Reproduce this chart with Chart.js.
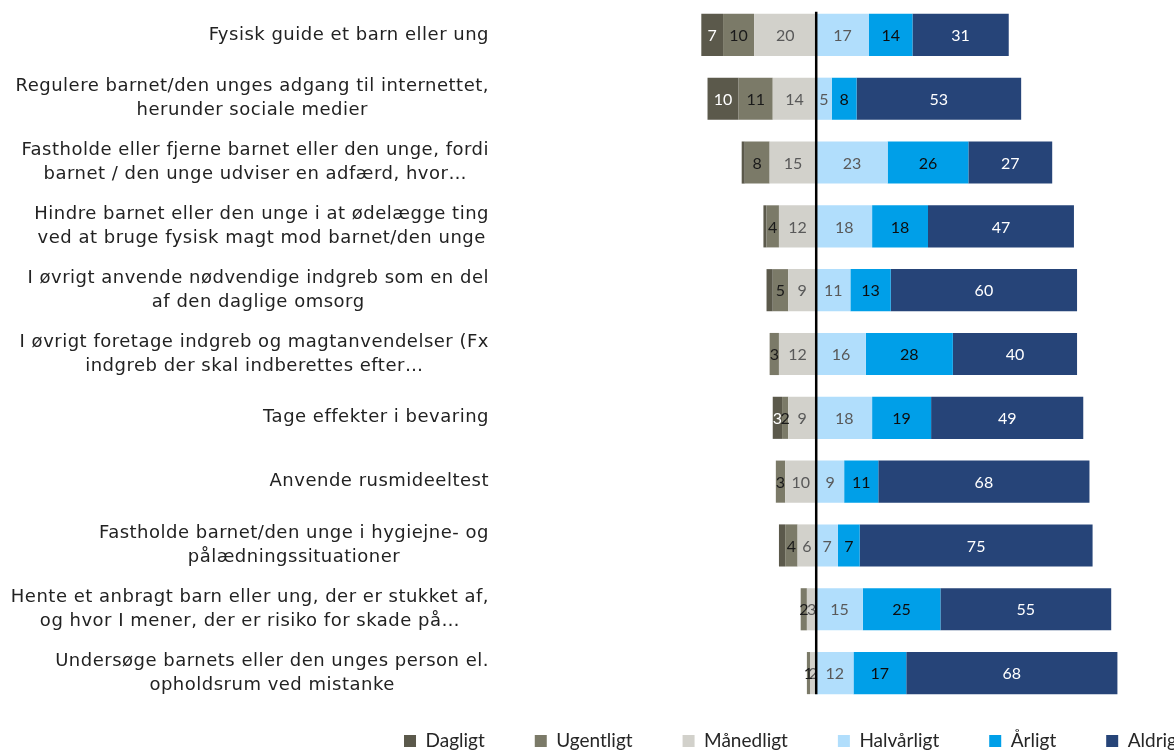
<!DOCTYPE html>
<html><head><meta charset="utf-8">
<script src="https://cdn.jsdelivr.net/npm/chart.js@4"></script>
<style>html,body{margin:0;padding:0;background:#fff;overflow:hidden}
#wrap{position:relative;width:1174px;height:751px}</style>
</head><body><div id="wrap"><canvas id="c"></canvas></div>
<script>
const categories = [
  ["Fysisk guide et barn eller ung"],
  ["Regulere barnet/den unges adgang til internettet,", "herunder sociale medier"],
  ["Fastholde eller fjerne barnet eller den unge, fordi", "barnet / den unge udviser en adfærd, hvor…"],
  ["Hindre barnet eller den unge i at ødelægge ting", "ved at bruge fysisk magt mod barnet/den unge"],
  ["I øvrigt anvende nødvendige indgreb som en del", "af den daglige omsorg"],
  ["I øvrigt foretage indgreb og magtanvendelser (Fx", "indgreb der skal indberettes efter…"],
  ["Tage effekter i bevaring"],
  ["Anvende rusmideeltest"],
  ["Fastholde barnet/den unge i hygiejne- og", "pålædningssituationer"],
  ["Hente et anbragt barn eller ung, der er stukket af,", "og hvor I mener, der er risiko for skade på…"],
  ["Undersøge barnets eller den unges person el.", "opholdsrum ved mistanke"]
];
const seriesNames = ["Dagligt", "Ugentligt", "Månedligt", "Halvårligt", "Årligt", "Aldrig"];
const dagligt     = [7, 10, 1, 1, 2, 0, 3, 0, 2, 0, 0];
const ugentligt   = [10, 11, 8, 4, 5, 3, 2, 3, 4, 2, 1];
const maanedligt  = [20, 14, 15, 12, 9, 12, 9, 10, 6, 3, 2];
const halvaarligt = [17, 5, 23, 18, 11, 16, 18, 9, 7, 15, 12];
const aarligt     = [14, 8, 26, 18, 13, 28, 19, 11, 7, 25, 17];
const aldrig      = [31, 53, 27, 47, 60, 40, 49, 68, 75, 55, 68];
const dagligtLabelShown = [true, true, false, false, false, false, true, false, false, false, false];

const fills = {
  "Dagligt": "#5b594b", "Ugentligt": "#7b7a68", "Månedligt": "#d2d1cb",
  "Halvårligt": "#b1defc", "Årligt": "#009fe8", "Aldrig": "#264478"
};
const labelColors = {
  "Dagligt": "#ffffff", "Ugentligt": "#1a1a1a", "Månedligt": "#595959",
  "Halvårligt": "#595959", "Årligt": "#0d0d0d", "Aldrig": "#ffffff"
};

function ds(name, values, negative, shown) {
  return {
    label: name,
    data: values.map(v => negative ? -v : v),
    backgroundColor: fills[name],
    borderWidth: 0,
    barPercentage: 0.66,
    categoryPercentage: 1,
    _labelColor: labelColors[name],
    _shown: shown || values.map(() => true)
  };
}
// negatives stack outward from zero: Månedligt nearest the axis
const datasets = [
  ds("Månedligt", maanedligt, true),
  ds("Ugentligt", ugentligt, true),
  ds("Dagligt", dagligt, true, dagligtLabelShown),
  ds("Halvårligt", halvaarligt, false),
  ds("Årligt", aarligt, false),
  ds("Aldrig", aldrig, false)
];

const valueLabels = {
  id: "valueLabels",
  afterDatasetsDraw(chart) {
    const ctx = chart.ctx;
    ctx.save();
    ctx.font = "16px Lato";
    ctx.textAlign = "center";
    ctx.textBaseline = "middle";
    chart.data.datasets.forEach((d, di) => {
      const meta = chart.getDatasetMeta(di);
      meta.data.forEach((el, i) => {
        const v = d.data[i];
        if (!v || !d._shown[i]) return;
        ctx.fillStyle = d._labelColor;
        ctx.fillText(String(Math.abs(v)), (el.x + el.base) / 2, el.y + 1);
      });
    });
    // zero line
    const xs = chart.scales.x;
    const x0 = xs.getPixelForValue(0);
    const m = chart.getDatasetMeta(3).data;
    const top = m[0].y - m[0].height / 2 - 2;
    const bot = m[m.length - 1].y + m[m.length - 1].height / 2;
    ctx.strokeStyle = "#000";
    ctx.lineWidth = 2.5;
    ctx.beginPath();
    ctx.moveTo(x0, top);
    ctx.lineTo(x0, bot);
    ctx.stroke();
    ctx.restore();
  }
};

const catLabels = {
  id: "catLabels",
  afterDraw(chart) {
    const ctx = chart.ctx;
    const ys = chart.scales.y;
    const right = chart.chartArea.left - 203;
    ctx.save();
    ctx.font = "18px 'DejaVu Sans'";
    try { ctx.letterSpacing = "0.5px"; } catch (e) {}
    ctx.fillStyle = "#222222";
    ctx.textAlign = "center";
    ctx.textBaseline = "middle";
    categories.forEach((lines, i) => {
      const y = ys.getPixelForValue(i);
      const w = Math.max(...lines.map(l => ctx.measureText(l).width));
      const cx = right - w / 2;
      lines.forEach((l, j) => {
        ctx.fillText(l, cx, y + (j - (lines.length - 1) / 2) * 24);
      });
    });
    ctx.restore();
  }
};

const legendShift = {
  id: "legendShift",
  afterLayout(chart) {
    const L = chart.legend;
    L.top -= 23.5; L.bottom -= 23.5;
    L.left += 63; L.right += 63;
  }
};

new Chart(document.getElementById("c"), {
  type: "bar",
  data: { labels: categories.map(c => c.join(" ")), datasets },
  options: {
    indexAxis: "y",
    responsive: true,
    maintainAspectRatio: false,
    animation: false,
    layout: { padding: { top: 3, right: 10, left: 0, bottom: -33 } },
    scales: {
      x: { stacked: true, min: -40, max: 112, display: false },
      y: {
        stacked: true,
        ticks: { display: false },
        grid: { display: false, drawTicks: false },
        border: { display: false },
        afterFit(s) { s.width = 692; }
      }
    },
    plugins: {
      tooltip: { enabled: false },
      legend: {
        position: "bottom",
        align: "end",
        labels: {
          boxWidth: 12, boxHeight: 12, padding: 50,
          color: "#262626",
          font: { family: "Lato", size: 19 },
          sort: (a, b) => seriesNames.indexOf(a.text) - seriesNames.indexOf(b.text)
        }
      }
    }
  },
  plugins: [valueLabels, catLabels, legendShift]
});
</script>
</body></html>
